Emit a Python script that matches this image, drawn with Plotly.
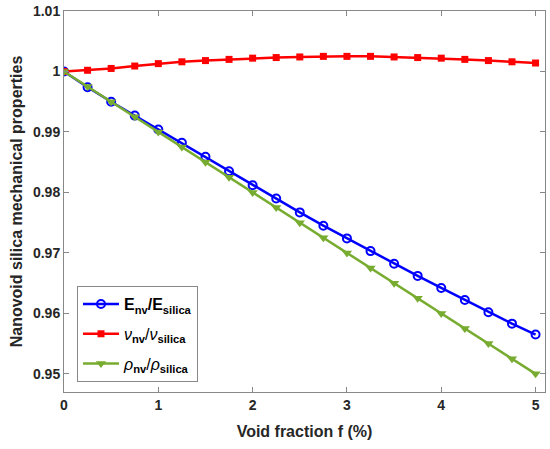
import plotly.graph_objects as go

f = [0, 0.25, 0.5, 0.75, 1, 1.25, 1.5, 1.75, 2, 2.25, 2.5,
     2.75, 3, 3.25, 3.5, 3.75, 4, 4.25, 4.5, 4.75, 5]

E_ratio = [1.0, 0.9974, 0.9950, 0.9927, 0.9904, 0.9882, 0.9859, 0.9835, 0.9812, 0.9790, 0.9767,
           0.9745, 0.9724, 0.9703, 0.9682, 0.9662, 0.9642, 0.9622, 0.9602, 0.9583, 0.9565]
nu_ratio = [1.0, 1.0002, 1.0005, 1.0009, 1.0013, 1.0016, 1.0018, 1.0020, 1.0022, 1.0023, 1.0024,
            1.0025, 1.0025, 1.0025, 1.0024, 1.0023, 1.0022, 1.0020, 1.0018, 1.0016, 1.0014]
rho_ratio = [1.0, 0.9975, 0.9950, 0.9925, 0.9900, 0.9875, 0.9850, 0.9825, 0.9800, 0.9775, 0.9750,
             0.9725, 0.9700, 0.9675, 0.9650, 0.9625, 0.9600, 0.9575, 0.9550, 0.9525, 0.9500]

y_ticks = [0.95, 0.96, 0.97, 0.98, 0.99, 1.0, 1.01]
y_labels = ["0.95", "0.96", "0.97", "0.98", "0.99", "1", "1.01"]
x_ticks = [0, 1, 2, 3, 4, 5]

FONT = "Liberation Sans, Arial, Helvetica, sans-serif"

fig = go.Figure()

fig.add_trace(go.Scatter(
    x=f, y=E_ratio, mode="lines+markers", legendgroup="E",
    name="<b>E<sub>nv</sub>/E<sub>silica</sub></b>",
    line=dict(color="#0000ff", width=2.5),
    marker=dict(symbol="circle-open", size=8, color="#0000ff", line=dict(width=2)),
))
fig.add_trace(go.Scatter(
    x=f, y=nu_ratio, mode="lines+markers", legendgroup="nu",
    name="<i>ν</i><b><sub>nv</sub></b>/<i>ν</i><b><sub>silica</sub></b>",
    line=dict(color="#ff0000", width=2.5),
    marker=dict(symbol="square", size=7, color="#ff0000"),
))
fig.add_trace(go.Scatter(
    x=f, y=rho_ratio, mode="lines+markers", legendgroup="rho",
    name="<i>ρ</i><b><sub>nv</sub></b>/<i>ρ</i><b><sub>silica</sub></b>",
    line=dict(color="#77ac30", width=2.5),
    marker=dict(symbol="triangle-down", size=9, color="#77ac30"),
))

axis_style = dict(
    showline=True, linecolor="#888888", linewidth=1, mirror="ticks",
    ticks="inside", ticklen=5, tickcolor="#888888",
    showgrid=False, zeroline=False, ticklabeloverflow="allow",
    tickfont=dict(family=FONT, size=14, color="#262626", weight="bold"),
)

fig.update_xaxes(
    range=[0, 5.1], tickvals=x_ticks,
    title=dict(text="<b>Void fraction f (%)</b>", font=dict(family=FONT, size=16, color="#262626"),
               standoff=14),
    **axis_style,
)
fig.update_yaxes(
    range=[0.947, 1.01], tickvals=y_ticks, ticktext=y_labels,
    title=dict(text="<b>Nanovoid silica mechanical properties</b>",
               font=dict(family=FONT, size=16, color="#262626"), standoff=6),
    **axis_style,
)

fig.update_layout(
    width=550, height=449,
    margin=dict(l=64, r=5, t=11, b=57, autoexpand=False),
    paper_bgcolor="white", plot_bgcolor="white",
    font=dict(family=FONT, color="#262626"),
    legend=dict(
        x=0.027, y=0.278, xanchor="left", yanchor="top",
        bgcolor="white", bordercolor="#888888", borderwidth=1,
        font=dict(family=FONT, size=16, color="#000000"),
        tracegroupgap=6, itemwidth=36,
    ),
)

# drop the default page margin so the figure fills the window exactly
fig.write_html("out.html", config={"displayModeBar": False},
               post_script="document.body.style.margin = '0';")
